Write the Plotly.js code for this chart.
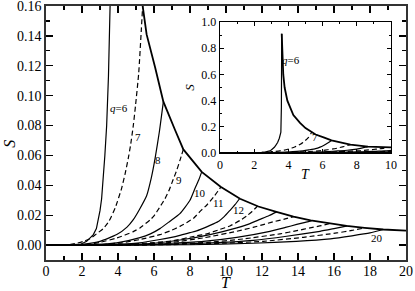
<!DOCTYPE html>
<html>
<head>
<meta charset="utf-8">
<script src="https://cdn.plot.ly/plotly-3.0.1.min.js"></script>
<style>html,body{margin:0;padding:0;background:#fff;}#plot{width:415px;height:291px;}</style>
</head>
<body>
<div id="plot"></div>
<script>
// q = 6 rising branch and common high-T envelope (q = 6 tail)
const T6 = [0, 1.5, 1.9, 2.26, 2.45, 2.63, 2.8, 2.91, 3.0, 3.09, 3.18, 3.27, 3.37, 3.47, 3.56, 3.59, 3.61];
const S6 = [0, 0, 0.0004, 0.0025, 0.0045, 0.007, 0.011, 0.017, 0.023, 0.031, 0.044, 0.06, 0.08, 0.113, 0.16, 0.35, 0.91];
const envT = [3.61, 3.65, 3.7, 3.78, 3.94, 4.29, 4.68, 5.0, 5.37, 5.59, 6.06, 6.52, 7.17, 7.63, 8.65, 9.7, 10.78, 11.8, 12.8, 13.75, 14.7, 15.75, 16.7, 17.7, 18.74, 20];
const envS = [0.91, 0.72, 0.6, 0.5, 0.40, 0.29, 0.23, 0.19, 0.16, 0.141, 0.119, 0.096, 0.077, 0.064, 0.049, 0.039, 0.031, 0.0258, 0.0222, 0.019, 0.0165, 0.0145, 0.0128, 0.0115, 0.0104, 0.0096];
// rising branches q = 7 ... 20
const T7 = [0, 1.2, 1.7, 2.1, 2.44, 2.8, 3.18, 3.5, 3.85, 4.2, 4.4, 4.57, 4.7, 4.85, 4.97, 5.15, 5.3, 5.38];
const S7 = [0, 0, 0.0012, 0.0025, 0.0042, 0.0075, 0.011, 0.016, 0.025, 0.038, 0.048, 0.058, 0.067, 0.08, 0.093, 0.115, 0.145, 0.162];
const T8 = [0, 1.5, 2.0, 3.0, 3.93, 4.5, 4.85, 5.2, 5.59, 5.85, 6.06, 6.3, 6.52];
const S8 = [0, 0, 0.0005, 0.0025, 0.007, 0.012, 0.017, 0.024, 0.033, 0.045, 0.058, 0.076, 0.096];
const T9 = [0, 1.8, 2.4, 3.0, 3.93, 4.85, 5.22, 5.8, 6.0, 6.3, 6.61, 6.85, 7.07, 7.26, 7.45, 7.63];
const S9 = [0, 0, 0.0004, 0.0018, 0.0047, 0.009, 0.0115, 0.017, 0.0195, 0.025, 0.031, 0.037, 0.044, 0.050, 0.057, 0.064];
const T10 = [0, 2.0, 2.8, 3.93, 5.22, 5.8, 6.33, 6.89, 7.44, 8.0, 8.28, 8.5, 8.65];
const S10 = [0, 0, 0.0004, 0.0015, 0.005, 0.0075, 0.011, 0.016, 0.021, 0.030, 0.038, 0.044, 0.049];
const T11 = [0, 2.2, 3.0, 4.2, 5.22, 6.33, 6.9, 7.44, 7.81, 8.2, 8.56, 8.95, 9.3, 9.55, 9.72];
const S11 = [0, 0, 0.0003, 0.0015, 0.0037, 0.007, 0.0095, 0.0125, 0.015, 0.018, 0.0225, 0.027, 0.032, 0.036, 0.039];
const T12 = [0, 2.4, 3.5, 5.2, 6.33, 6.9, 7.44, 8.0, 8.37, 8.9, 9.3, 9.6, 9.9, 10.22, 10.5, 10.75];
const S12 = [0, 0, 0.0003, 0.0015, 0.0037, 0.005, 0.0065, 0.0083, 0.0095, 0.012, 0.0142, 0.016, 0.019, 0.0232, 0.027, 0.031];
const T13 = [0, 2.6, 4.0, 5.5, 7.0, 8.37, 8.93, 9.67, 10.22, 10.78, 11.15, 11.45, 11.74];
const S13 = [0, 0, 0.0003, 0.0012, 0.0028, 0.0062, 0.0075, 0.0105, 0.0128, 0.0165, 0.0195, 0.0225, 0.026];
const T14 = [0, 2.8, 4.5, 6.0, 7.63, 9.11, 10.6, 11.3, 11.89, 12.4, 12.82];
const S14 = [0, 0, 0.0003, 0.0012, 0.0037, 0.007, 0.0115, 0.0142, 0.0172, 0.0198, 0.0222];
const T15 = [0, 3.0, 5.0, 7.0, 8.74, 10.6, 11.5, 12.07, 12.6, 13.2, 13.75];
const S15 = [0, 0, 0.0003, 0.0018, 0.0048, 0.0092, 0.0118, 0.0137, 0.0155, 0.0172, 0.019];
const T16 = [0, 3.2, 5.5, 7.0, 8.74, 10.6, 12.44, 13.3, 13.93, 14.4, 14.76];
const S16 = [0, 0, 0.0003, 0.0012, 0.0025, 0.0052, 0.0092, 0.0118, 0.0138, 0.0152, 0.0164];
const T17 = [0, 3.4, 6.0, 9.0, 10.96, 13.0, 14.0, 14.67, 15.3, 15.78];
const S17 = [0, 0, 0.0003, 0.0018, 0.0041, 0.0075, 0.0098, 0.0115, 0.013, 0.0144];
const T18 = [0, 3.6, 6.5, 9.5, 11.52, 13.37, 15.22, 16.0, 16.75];
const S18 = [0, 0, 0.0003, 0.0016, 0.0032, 0.0059, 0.0092, 0.011, 0.0128];
const T19 = [0, 3.8, 7.0, 10.0, 12.07, 14.3, 16.15, 17.0, 17.72];
const S19 = [0, 0, 0.0003, 0.0013, 0.0025, 0.0052, 0.0081, 0.0098, 0.0115];
const T20 = [0, 4.0, 8.0, 11.5, 13.9, 15.8, 17.0, 18.0, 18.74];
const S20 = [0, 0, 0.0002, 0.0012, 0.0025, 0.0042, 0.0062, 0.0081, 0.0104];

const qs = [7, 8, 9, 10, 11, 12, 13, 14, 15, 16, 17, 18, 19, 20];
const Tq = [T7, T8, T9, T10, T11, T12, T13, T14, T15, T16, T17, T18, T19, T20];
const Sq = [S7, S8, S9, S10, S11, S12, S13, S14, S15, S16, S17, S18, S19, S20];

// curve labels
const mainLabText = ['<i>q</i>=6', '7', '8', '9', '10', '11', '12', '20'];
const mainLabT = [4.06, 5.11, 6.24, 7.41, 8.56, 9.57, 10.68, 18.37];
const mainLabS = [0.0917, 0.0723, 0.057, 0.0437, 0.0348, 0.0281, 0.0237, 0.0049];
const insetLabText = ['<i>q</i>=6', '7'];
const insetLabT = [4.15, 5.56];
const insetLabS = [0.707, 0.123];

const traces = [];
function addSet(xa, ya) {
  traces.push({x: T6, y: S6, xaxis: xa, yaxis: ya, mode: 'lines', line: {color: '#000', width: 1.2}, hoverinfo: 'skip'});
  qs.forEach((q, i) => {
    traces.push({x: Tq[i], y: Sq[i], xaxis: xa, yaxis: ya, mode: 'lines',
      line: {color: '#000', width: 1.2, dash: (q % 2 === 1) ? '5px,3px' : 'solid', shape: 'spline', smoothing: 0.5},
      hoverinfo: 'skip'});
  });
  traces.push({x: envT, y: envS, xaxis: xa, yaxis: ya, mode: 'lines', line: {color: '#000', width: 1.8}, hoverinfo: 'skip'});
}
addSet('x', 'y');
addSet('x2', 'y2');

const annotations = [];
mainLabText.forEach((t, i) => annotations.push({x: mainLabT[i], y: mainLabS[i], xref: 'x', yref: 'y', text: t, showarrow: false, font: {size: 11}, xanchor: 'center', yanchor: 'middle'}));
insetLabText.forEach((t, i) => annotations.push({x: insetLabT[i], y: insetLabS[i], xref: 'x2', yref: 'y2', text: t, showarrow: false, font: {size: 11}, xanchor: 'center', yanchor: 'middle'}));
annotations.push({x: 0.5, y: -0.09, xref: 'paper', yref: 'paper', text: '<i>T</i>', showarrow: false, font: {size: 16}, xanchor: 'center', yanchor: 'middle', borderpad: 0});
annotations.push({x: -0.1, y: 0.458, xref: 'paper', yref: 'paper', text: '<i>S</i>', textangle: -90, showarrow: false, font: {size: 16}, xanchor: 'center', yanchor: 'middle', borderpad: 0});
annotations.push({x: 0.722, y: 0.336, xref: 'paper', yref: 'paper', text: '<i>T</i>', showarrow: false, font: {size: 14}, xanchor: 'center', yanchor: 'middle'});
annotations.push({x: 0.4, y: 0.678, xref: 'paper', yref: 'paper', text: '<i>S</i>', textangle: -90, showarrow: false, font: {size: 13}, xanchor: 'center', yanchor: 'middle'});

const layout = {
  width: 415, height: 291,
  margin: {l: 46, r: 9, t: 6, b: 30.5},
  paper_bgcolor: '#fff', plot_bgcolor: '#fff',
  showlegend: false,
  font: {family: 'Liberation Serif', color: '#000', size: 14},
  xaxis: {range: [0, 20], dtick: 2, tick0: 0, ticks: 'inside', ticklen: 7, tickwidth: 1.2, tickcolor: '#000',
    minor: {dtick: 1, ticks: 'inside', ticklen: 4, tickwidth: 1.2, tickcolor: '#000'},
    showline: true, linecolor: '#333', linewidth: 1.6, mirror: 'allticks', showgrid: false, zeroline: false,
    tickfont: {size: 14}, ticklabelstandoff: -2, ticklabeloverflow: 'allow', domain: [0, 1], anchor: 'y'},
  yaxis: {range: [-0.01, 0.16001], dtick: 0.02, tick0: 0, tickformat: '.2f', ticks: 'inside', ticklen: 7, tickwidth: 1.2, tickcolor: '#000',
    minor: {dtick: 0.01, ticks: 'inside', ticklen: 4, tickwidth: 1.2, tickcolor: '#000'},
    showline: true, linecolor: '#333', linewidth: 1.6, mirror: 'allticks', showgrid: false, zeroline: false,
    tickfont: {size: 14}, ticklabeloverflow: 'allow', domain: [0, 1], anchor: 'x'},
  xaxis2: {range: [0, 10], dtick: 2, tick0: 0, ticks: 'inside', ticklen: 4, tickwidth: 1, tickcolor: '#000',
    minor: {dtick: 1, ticks: 'inside', ticklen: 2, tickwidth: 1, tickcolor: '#000'},
    showline: true, linecolor: '#000', linewidth: 1.3, mirror: 'allticks', showgrid: false, zeroline: false,
    tickfont: {size: 12}, ticklabeloverflow: 'allow', domain: [0.4833, 0.9583], anchor: 'y2'},
  yaxis2: {range: [0, 1.0001], dtick: 0.2, tick0: 0, tickformat: '.1f', ticks: 'inside', ticklen: 4, tickwidth: 1, tickcolor: '#000',
    minor: {dtick: 0.1, ticks: 'inside', ticklen: 2, tickwidth: 1, tickcolor: '#000'},
    showline: true, linecolor: '#000', linewidth: 1.3, mirror: 'allticks', showgrid: false, zeroline: false,
    tickfont: {size: 12}, ticklabeloverflow: 'allow', domain: [0.4212, 0.937], anchor: 'x2'},
  annotations: annotations
};
Plotly.newPlot('plot', traces, layout, {staticPlot: true, displayModeBar: false});
</script>
</body>
</html>
